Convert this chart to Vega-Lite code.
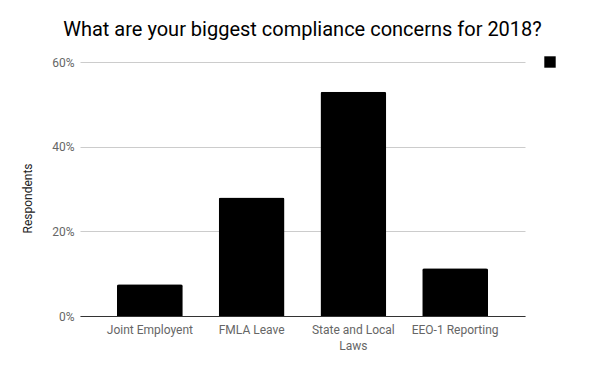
{
  "$schema": "https://vega.github.io/schema/vega-lite/v6.json",
  "autosize": {"type": "none"},
  "padding": {"left": 80, "top": 62, "right": 75, "bottom": 55},
  "width": 445,
  "height": 254,
  "background": "white",
  "title": {
    "text": "What are your biggest compliance concerns for 2018?",
    "font": "Roboto",
    "fontSize": 20,
    "fontWeight": "normal",
    "color": "#000000",
    "anchor": "middle",
    "offset": 16
  },
  "config": {
    "view": {"stroke": null},
    "font": "Roboto"
  },
  "data": {
    "values": [
      {"concern": "Joint Employent", "share": 0.075, "series": "s"},
      {"concern": "FMLA Leave", "share": 0.28, "series": "s"},
      {"concern": "State and Local Laws", "share": 0.53, "series": "s"},
      {"concern": "EEO-1 Reporting", "share": 0.113, "series": "s"}
    ]
  },
  "mark": {"type": "bar", "cornerRadiusTopLeft": 2, "cornerRadiusTopRight": 2},
  "encoding": {
    "x": {
      "field": "concern",
      "type": "nominal",
      "sort": null,
      "scale": {"paddingInner": 0.353, "paddingOuter": 0.363},
      "axis": {
        "title": null,
        "labelAngle": 0,
        "labelFont": "Roboto",
        "labelFontSize": 12,
        "labelColor": "#666666",
        "labelPadding": 8,
        "labelLineHeight": 16,
        "labelExpr": "datum.value == 'State and Local Laws' ? ['State and Local', 'Laws'] : datum.value",
        "ticks": false,
        "domainColor": "#333333",
        "domainWidth": 1,
        "grid": false
      }
    },
    "y": {
      "field": "share",
      "type": "quantitative",
      "scale": {"domain": [0, 0.6], "nice": false},
      "axis": {
        "title": "Respondents",
        "titleFont": "Roboto",
        "titleFontSize": 12,
        "titleFontWeight": "normal",
        "titleColor": "#222222",
        "titlePadding": 17,
        "titleY": 136,
        "values": [0, 0.2, 0.4, 0.6],
        "format": ".0%",
        "labelFont": "Roboto",
        "labelFontSize": 12,
        "labelColor": "#666666",
        "labelPadding": 6,
        "ticks": false,
        "domain": false,
        "gridColor": "#cccccc",
        "gridWidth": 1
      }
    },
    "color": {
      "field": "series",
      "type": "nominal",
      "scale": {"range": ["#000000"]},
      "legend": {
        "title": null,
        "orient": "none",
        "legendX": 464,
        "legendY": -6,
        "symbolType": "square",
        "symbolSize": 130,
        "symbolStrokeWidth": 0,
        "labelExpr": "''",
        "labelFontSize": 1
      }
    }
  }
}
